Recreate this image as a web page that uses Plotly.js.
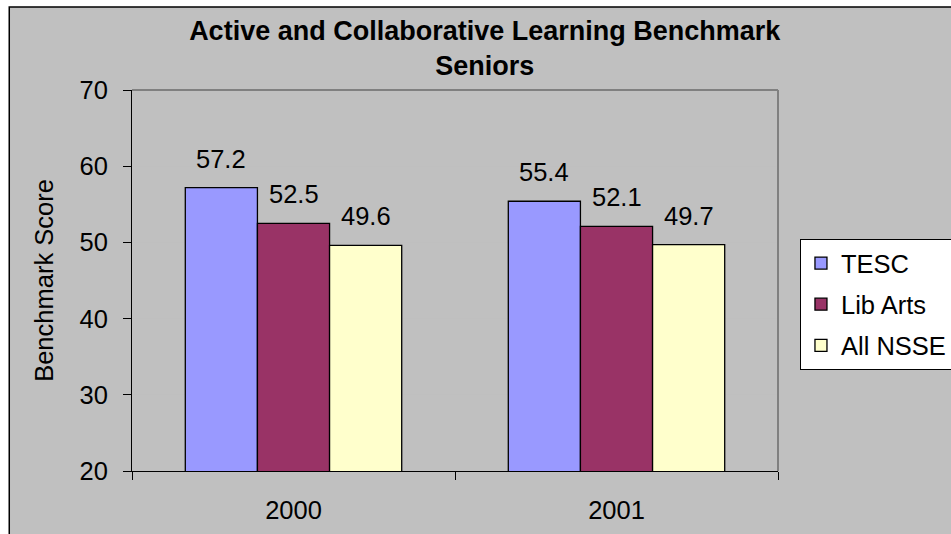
<!DOCTYPE html>
<html>
<head>
<meta charset="utf-8">
<script src="https://cdn.plot.ly/plotly-3.0.1.min.js"></script>
<style>
html,body{margin:0;padding:0;background:#ffffff;}
#chart{width:951px;height:534px;}
</style>
</head>
<body>
<div id="chart"></div>
<script>
var categories = ["2000", "2001"];
var seriesNames = ["TESC", "Lib Arts", "All NSSE"];
var tescValues = [57.2, 55.4];
var libArtsValues = [52.5, 52.1];
var allNsseValues = [49.6, 49.7];
var seriesColors = ["#9999FF", "#993366", "#FFFFCC"];
var yTickValues = [20, 30, 40, 50, 60, 70];

var seriesValues = [tescValues, libArtsValues, allNsseValues];
var font = "Liberation Sans, Arial, sans-serif";
var fs = 25.5;
var bargap = 0.33;
var barWidthData = (1 - bargap) / seriesValues.length;

var traces = seriesValues.map(function (vals, i) {
  return {
    type: "bar",
    name: seriesNames[i],
    legendgroup: "g" + i,
    x: categories,
    y: vals,
    marker: {color: seriesColors[i], line: {color: "#000000", width: 1.3}},
    hoverinfo: "name+y"
  };
});

var annotations = [];
seriesValues.forEach(function (vals, i) {
  vals.forEach(function (v, j) {
    annotations.push({
      xref: "x", yref: "y",
      x: j + (i - (seriesValues.length - 1) / 2) * barWidthData,
      y: v,
      text: String(v.toFixed(1)),
      showarrow: false,
      xanchor: "center", yanchor: "middle",
      yshift: 29,
      font: {family: font, size: fs, color: "#000000"}
    });
  });
});

var layout = {
  width: 951, height: 534,
  margin: {l: 132, r: 173, t: 90, b: 63, autoexpand: false},
  paper_bgcolor: "#ffffff",
  plot_bgcolor: "#ffffff",
  font: {family: font, size: fs, color: "#000000"},
  title: {
    text: "<b>Active and Collaborative Learning Benchmark<br>Seniors</b>",
    font: {family: font, size: 27, color: "#000000"},
    x: 0.546, xanchor: "center", xref: "paper",
    y: 0.925, yanchor: "top", yref: "container"
  },
  barmode: "group",
  bargap: bargap,
  bargroupgap: 0,
  showlegend: true,
  legend: {
    x: 1.034, xanchor: "left", y: 0.609, yanchor: "top",
    bgcolor: "#ffffff", bordercolor: "#000000", borderwidth: 1,
    font: {family: font, size: fs, color: "#000000"},
    tracegroupgap: 5,
    traceorder: "grouped",
    itemwidth: 30
  },
  xaxis: {
    type: "category",
    tickson: "boundaries",
    ticks: "outside", ticklen: 8, tickcolor: "#000000", tickwidth: 1,
    showline: true, linecolor: "#000000", linewidth: 1,
    showgrid: false, zeroline: false,
    ticklabelstandoff: 16,
    tickfont: {family: font, size: fs, color: "#000000"},
    fixedrange: true
  },
  yaxis: {
    range: [20, 70],
    tickmode: "array", tickvals: yTickValues,
    ticks: "outside", ticklen: 8, tickcolor: "#000000", tickwidth: 1,
    showline: true, linecolor: "#000000", linewidth: 1,
    showgrid: true, gridcolor: "#BFBFBF", gridwidth: 1,
    zeroline: false,
    ticklabelstandoff: 10,
    tickfont: {family: font, size: fs, color: "#000000"},
    title: {text: "Benchmark Score", font: {family: font, size: fs, color: "#000000"}, standoff: 18},
    fixedrange: true
  },
  shapes: [
    {type: "rect", xref: "paper", yref: "paper", x0: -0.190, x1: 1.4, y0: -0.3, y1: 1.218,
     fillcolor: "#C0C0C0", line: {color: "#000000", width: 1.5}, layer: "below"},
    {type: "line", xref: "paper", yref: "paper", x0: 0, x1: 1, y0: 1, y1: 1,
     line: {color: "#808080", width: 2}, layer: "above"},
    {type: "line", xref: "paper", yref: "paper", x0: 1, x1: 1, y0: 0, y1: 1,
     line: {color: "#808080", width: 2}, layer: "above"}
  ],
  annotations: annotations
};

Plotly.newPlot("chart", traces, layout, {displayModeBar: false, staticPlot: true});
</script>
</body>
</html>
